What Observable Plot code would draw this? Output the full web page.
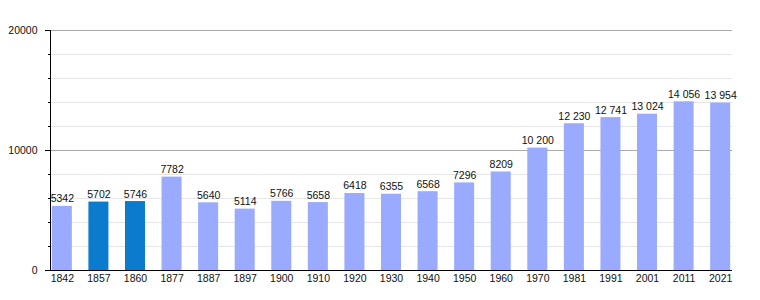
<!DOCTYPE html>
<html>
<head>
<meta charset="utf-8">
<script src="https://cdn.jsdelivr.net/npm/d3@7"></script>
<script src="https://cdn.jsdelivr.net/npm/@observablehq/plot@0.6"></script>
<style>
  html, body { margin: 0; padding: 0; background: #fff; }
  #chart { width: 760px; height: 300px; }
</style>
</head>
<body>
<div id="chart"></div>
<script>
const years = ["1842","1857","1860","1877","1887","1897","1900","1910","1920","1930","1940","1950","1960","1970","1981","1991","2001","2011","2021"];
const population = [5342,5702,5746,7782,5640,5114,5766,5658,6418,6355,6568,7296,8209,10200,12230,12741,13024,14056,13954];
const highlighted = ["1857","1860"];
const majorTicks = [0, 10000, 20000];
const minorTicks = [2000,4000,6000,8000,12000,14000,16000,18000];

const data = years.map((y, i) => ({year: y, value: population[i], hl: highlighted.includes(y)}));
const locale = d3.formatLocale({decimal: ",", thousands: "\u00a0", grouping: [3]});
const fmt = v => v >= 10000 ? locale.format(",d")(v) : String(v);

const chart = Plot.plot({
  width: 760,
  height: 300,
  marginLeft: 50,
  marginRight: 28,
  marginTop: 30,
  marginBottom: 30,
  style: {fontFamily: "'Liberation Sans', Arial, sans-serif", fontSize: "10px", background: "#fff", color: "#000"},
  x: {domain: years, round: false, paddingInner: 0.453, paddingOuter: 0.05, label: null},
  y: {domain: [0, 20000], label: null},
  marks: [
    Plot.gridY(minorTicks, {stroke: "#e6e6e6", strokeOpacity: 1}),
    Plot.ruleY([10000, 20000], {stroke: "#aaaaaa"}),
    Plot.barY(data, {x: "year", y: "value", fill: d => d.hl ? "#0a7bcd" : "#99aaff"}),
    Plot.text(data, {x: "year", y: "value", text: d => fmt(d.value), lineAnchor: "bottom", dy: -4, fill: "#111", fontSize: 10.5}),
    Plot.axisX({tickSize: 0, tickPadding: 4, fontSize: 10.5, label: null, fill: "#111"}),
    Plot.axisY({ticks: majorTicks, tickSize: 5, tickPadding: 8, tickFormat: d => String(d), fontSize: 10.5, label: null, fill: "#111"}),
    Plot.axisY({ticks: minorTicks, tickSize: 2, tickFormat: () => "", label: null}),
    Plot.ruleY([0], {stroke: "#000"}),
    Plot.frame({anchor: "left", stroke: "#000"})
  ]
});
document.getElementById("chart").appendChild(chart);
</script>
</body>
</html>
